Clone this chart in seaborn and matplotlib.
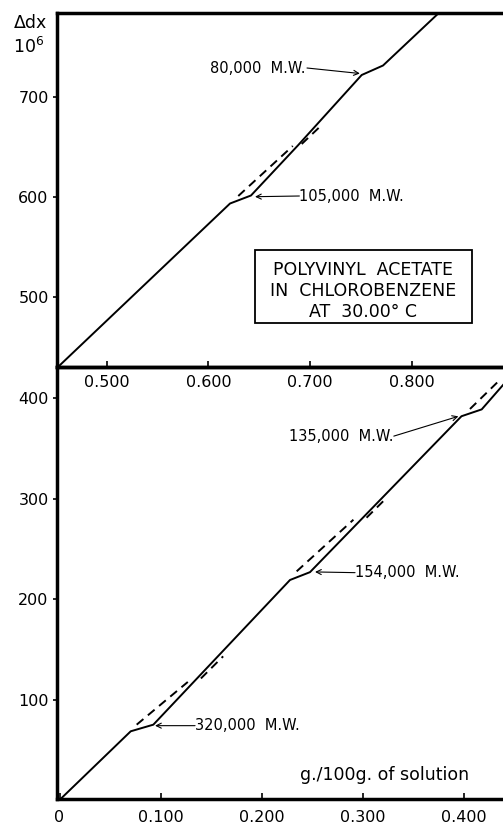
import matplotlib
matplotlib.use("Agg")
import matplotlib.pyplot as plt
from matplotlib.patches import Rectangle
import seaborn as sns
import pandas as pd

# ---- data ----
# lower panel: 0 - 0.44 g/100 g
low_x = [0.0, 0.0705, 0.0929, 0.2282, 0.248, 0.398, 0.418, 0.446]
low_y = [0.0, 68.4, 75.0, 219.0, 226.8, 382.0, 388.8, 421.0]
# dashed guide lines (each drawn as an upper-left and a lower-right piece)
low_dash1a_x = [0.0764, 0.127]
low_dash1a_y = [75.0, 117.5]
low_dash1b_x = [0.140, 0.162]
low_dash1b_y = [121.0, 143.0]
low_dash2a_x = [0.2348, 0.291]
low_dash2a_y = [227.6, 279.0]
low_dash2b_x = [0.304, 0.3206]
low_dash2b_y = [281.0, 297.5]
low_dash3_x = [0.4064, 0.4345]
low_dash3_y = [389.2, 416.7]

# upper panel: 0.45 - 0.89 g/100 g
up_x = [0.451, 0.6213, 0.6419, 0.6880, 0.7508, 0.7718, 0.835]
up_y = [429.0, 593.5, 601.5, 651.5, 722.0, 731.5, 792.0]
up_dash_a_x = [0.6294, 0.683]
up_dash_a_y = [601.0, 651.0]
up_dash_b_x = [0.6918, 0.7115]
up_dash_b_y = [653.0, 672.0]

low_xticks = [0.0, 0.1, 0.2, 0.3, 0.4]
low_xlabels = ["0", "0.100", "0.200", "0.300", "0.400"]
low_yticks = [100, 200, 300, 400]
up_xticks = [0.5, 0.6, 0.7, 0.8]
up_xlabels = ["0.500", "0.600", "0.700", "0.800"]
up_yticks = [500, 600, 700]

mw_labels = ["80,000  M.W.", "105,000  M.W.", "135,000  M.W.", "154,000  M.W.", "320,000  M.W."]

sns.set_theme(style="white")
plt.rcParams["font.family"] = ["DejaVu Sans"]
plt.rcParams["text.color"] = "black"
plt.rcParams["xtick.color"] = "black"
plt.rcParams["ytick.color"] = "black"

fig = plt.figure(figsize=(5.03, 8.24), dpi=100)
W, H = 503.0, 824.0
left = 57 / W
ax_low = fig.add_axes([left, 1 - 799 / H, 1 - left, (799 - 367) / H])
ax_up = fig.add_axes([left, 1 - 367 / H, 1 - left, (367 - 13) / H])
for a in (ax_low, ax_up):
    a.set_facecolor("none")
ax_up.set_zorder(3)

lw = 1.4
dash = (4.5, 3.0)

def draw(ax, xs, ys, dashed=False):
    df = pd.DataFrame({"x": xs, "y": ys})
    kw = dict(color="black", linewidth=lw, sort=False, estimator=None)
    line = sns.lineplot(data=df, x="x", y="y", ax=ax, **kw)
    if dashed:
        line.lines[-1].set_dashes(dash)

draw(ax_low, low_x, low_y)
draw(ax_low, low_dash1a_x, low_dash1a_y, dashed=True)
draw(ax_low, low_dash1b_x, low_dash1b_y, dashed=True)
draw(ax_low, low_dash2a_x, low_dash2a_y, dashed=True)
draw(ax_low, low_dash2b_x, low_dash2b_y, dashed=True)
draw(ax_low, low_dash3_x, low_dash3_y, dashed=True)
draw(ax_up, up_x, up_y)
draw(ax_up, up_dash_a_x, up_dash_a_y, dashed=True)
draw(ax_up, up_dash_b_x, up_dash_b_y, dashed=True)

ax_low.set_xlim(-0.0025, 0.4391)
ax_low.set_ylim(1.0, 431.0)
ax_up.set_xlim(0.4511, 0.8898)
ax_up.set_ylim(430.0, 784.0)

fs = 11.5
for a in (ax_low, ax_up):
    a.set_xlabel("")
    a.set_ylabel("")
    a.spines["right"].set_visible(False)
    for s in ("left", "top", "bottom"):
        a.spines[s].set_linewidth(2.5)
        a.spines[s].set_color("black")
    a.tick_params(axis="y", direction="out", length=3, width=1.2, pad=3,
                  labelsize=fs, colors="black", left=True)
    a.tick_params(axis="x", direction="in", length=4, width=1.2,
                  labelsize=fs, colors="black", bottom=True)

ax_low.set_xticks(low_xticks)
ax_low.set_xticklabels(low_xlabels)
ax_low.set_yticks(low_yticks)
ax_low.set_yticklabels([str(v) for v in low_yticks])
ax_low.tick_params(axis="x", pad=8)

ax_up.set_xticks(up_xticks)
ax_up.set_xticklabels(up_xlabels)
ax_up.set_yticks(up_yticks)
ax_up.set_yticklabels([str(v) for v in up_yticks])
ax_up.tick_params(axis="x", pad=6)

arrow = dict(arrowstyle="->", color="black", lw=0.8, shrinkA=0, shrinkB=0,
             mutation_scale=9)
tfs = 10.5

# upper panel annotations
ax_up.annotate("", xy=(0.7490, 723.5), xytext=(0.697, 729), arrowprops=arrow)
ax_up.text(0.6955, 729, mw_labels[0], fontsize=tfs, ha="right", va="center")
ax_up.annotate("", xy=(0.6459, 600.3), xytext=(0.6895, 601), arrowprops=arrow)
ax_up.text(0.6895, 601, mw_labels[1], fontsize=tfs, ha="left", va="center")

ax_up.add_patch(Rectangle((0.6461, 473.7), 0.859 - 0.6461, 547.0 - 473.7,
                          facecolor="white", edgecolor="black", linewidth=1.3,
                          zorder=4))
ax_up.text(0.752, 506.0, "POLYVINYL  ACETATE\nIN  CHLOROBENZENE\nAT  30.00° C",
           fontsize=12.5, ha="center", va="center", linespacing=1.22, zorder=5)

# lower panel annotations
ax_low.annotate("", xy=(0.3949, 381.9), xytext=(0.331, 362.2), arrowprops=arrow)
ax_low.text(0.331, 362, mw_labels[2], fontsize=tfs, ha="right", va="center")
ax_low.annotate("", xy=(0.253, 227.0), xytext=(0.2926, 226.3), arrowprops=arrow)
ax_low.text(0.2926, 226, mw_labels[3], fontsize=tfs, ha="left", va="center")
ax_low.annotate("", xy=(0.0946, 74.0), xytext=(0.1342, 74.0), arrowprops=arrow)
ax_low.text(0.1342, 74, mw_labels[4], fontsize=tfs, ha="left", va="center")
ax_low.text(0.238, 24.5, "g./100g. of solution", fontsize=12.5, ha="left",
            va="center")

# y-axis label
fig.text(30 / W, 1 - 23 / H, "Δdx", fontsize=12.5, ha="center", va="center")
fig.text(29 / W, 1 - 47 / H, "10$^6$", fontsize=12.5, ha="center", va="center")

fig.savefig("out.png", dpi=100)
